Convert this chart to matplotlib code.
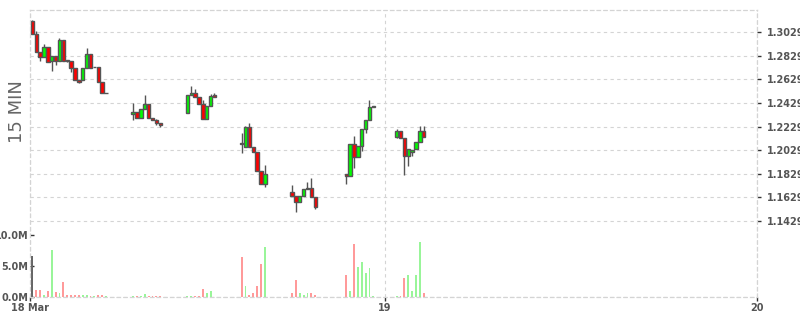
import matplotlib
matplotlib.use("Agg")
import matplotlib.pyplot as plt
import numpy as np

# 15-minute slots counted from 18 Mar 00:00 (96 slots per day)
slots = (list(range(5, 25)) + list(range(31, 39)) + list(range(45, 53)) +
         list(range(59, 66)) + list(range(72, 79)) + list(range(86, 94)) +
         list(range(99, 107)))

opens = [1.3125, 1.3012, 1.2859, 1.2822, 1.2907, 1.2786, 1.2831, 1.2786, 1.2964, 1.2794,
         1.2786, 1.2724, 1.2624, 1.2624, 1.2724, 1.2842, 1.2736, 1.2737, 1.2610, 1.2512,
         1.2336, 1.2356, 1.2300, 1.2376, 1.2418, 1.2302, 1.2285, 1.2262,
         1.2347, 1.2497, 1.2512, 1.2478, 1.2421, 1.2291, 1.2404, 1.2497,
         1.2090, 1.2059, 1.2229, 1.2059, 1.2017, 1.1855, 1.1743,
         1.1672, 1.1641, 1.1587, 1.1641, 1.1700, 1.1711, 1.1630,
         1.1825, 1.1810, 1.2079, 1.1969, 1.2065, 1.2209, 1.2285, 1.2393,
         1.2144, 1.2192, 1.2130, 1.1983, 1.2010, 1.2037, 1.2096, 1.2192]
highs = [1.3136, 1.3040, 1.2859, 1.2927, 1.2907, 1.2831, 1.2831, 1.2978, 1.2964, 1.2794,
         1.2786, 1.2724, 1.2624, 1.2724, 1.2893, 1.2842, 1.2737, 1.2737, 1.2610, 1.2512,
         1.2432, 1.2356, 1.2376, 1.2497, 1.2418, 1.2302, 1.2294, 1.2262,
         1.2497, 1.2574, 1.2548, 1.2478, 1.2455, 1.2404, 1.2506, 1.2512,
         1.2175, 1.2234, 1.2257, 1.2059, 1.2017, 1.1855, 1.1904,
         1.1734, 1.1641, 1.1641, 1.1700, 1.1762, 1.1791, 1.1630,
         1.1825, 1.2079, 1.2150, 1.2065, 1.2209, 1.2285, 1.2455, 1.2407,
         1.2209, 1.2192, 1.2130, 1.2037, 1.2035, 1.2096, 1.2237, 1.2237]
lows = [1.3012, 1.2859, 1.2786, 1.2822, 1.2780, 1.2701, 1.2752, 1.2786, 1.2786, 1.2781,
        1.2695, 1.2624, 1.2603, 1.2624, 1.2724, 1.2724, 1.2736, 1.2610, 1.2512, 1.2512,
        1.2285, 1.2300, 1.2300, 1.2376, 1.2300, 1.2285, 1.2243, 1.2229,
        1.2342, 1.2497, 1.2478, 1.2421, 1.2291, 1.2291, 1.2404, 1.2478,
        1.2005, 1.2059, 1.2059, 1.2017, 1.1855, 1.1743, 1.1720,
        1.1641, 1.1508, 1.1587, 1.1641, 1.1700, 1.1630, 1.1528,
        1.1740, 1.1810, 1.1876, 1.1969, 1.2022, 1.2175, 1.2285, 1.2393,
        1.2133, 1.2130, 1.1819, 1.1898, 1.1983, 1.2037, 1.2096, 1.2144]
closes = [1.3012, 1.2859, 1.2822, 1.2907, 1.2780, 1.2831, 1.2786, 1.2964, 1.2786, 1.2786,
          1.2724, 1.2624, 1.2610, 1.2724, 1.2842, 1.2724, 1.2737, 1.2610, 1.2512, 1.2512,
          1.2356, 1.2300, 1.2376, 1.2418, 1.2300, 1.2285, 1.2262, 1.2240,
          1.2497, 1.2512, 1.2478, 1.2421, 1.2291, 1.2404, 1.2489, 1.2478,
          1.2086, 1.2229, 1.2059, 1.2017, 1.1855, 1.1743, 1.1825,
          1.1641, 1.1587, 1.1641, 1.1700, 1.1711, 1.1630, 1.1545,
          1.1810, 1.2079, 1.1969, 1.2065, 1.2209, 1.2285, 1.2393, 1.2407,
          1.2192, 1.2130, 1.1983, 1.2037, 1.2035, 1.2096, 1.2192, 1.2144]
# volume in millions
volumes = [6.6, 1.1, 1.1, 0.4, 0.9, 7.6, 0.75, 0.6, 2.4, 0.3,
           0.4, 0.3, 0.4, 0.4, 0.4, 0.1, 0.2, 0.4, 0.4, 0.1,
           0.2, 0.2, 0.2, 0.5, 0.1, 0.2, 0.2, 0.2,
           0.2, 0.1, 0.2, 0.2, 1.3, 0.6, 1.0, 0.05,
           6.4, 1.8, 0.3, 0.7, 1.8, 5.3, 8.0,
           0.7, 2.7, 0.6, 0.3, 0.7, 0.7, 0.3,
           3.6, 1.0, 8.5, 4.9, 5.7, 3.9, 4.7, 0.1,
           0.2, 0.1, 3.1, 3.6, 0.9, 3.6, 8.8, 0.6]

price_ticks = [1.1429, 1.1629, 1.1829, 1.2029, 1.2229, 1.2429, 1.2629, 1.2829, 1.3029]
day_ticks = [4.39, 96, 192]
day_labels = ['18 Mar', '19', '20']

txt = '#555555'
grid_c = '#d4d4d4'

fig = plt.figure(figsize=(8, 3.15), dpi=100)
ax = fig.add_axes([30 / 800, 18 / 315, 727 / 800, 287 / 315])
axv = ax.twinx()

x = np.array(slots, dtype=float)
o = np.array(opens)
c = np.array(closes)
up = c >= o

# volume bars
vcol = np.where(up, '#99f599', '#ff9a9a')
vcol[0] = '#666666'
axv.bar(x, np.array(volumes) * 1e6, width=0.5, color=vcol, linewidth=0, zorder=2)

# candles
ax.vlines(x, lows, highs, color='#555555', linewidth=1, zorder=3)
body_lo = np.minimum(o, c)
body_h = np.maximum(np.abs(c - o), 0.00005)
ax.bar(x, body_h, bottom=body_lo, width=0.85,
       color=np.where(up, '#00ff00', '#ff0000'), edgecolor='#555555',
       linewidth=1, zorder=4)

ax.set_xlim(4.39, 192)
ax.set_ylim(1.07844, 1.32181)
axv.set_ylim(0, 46.3e6)

ax.yaxis.tick_right()
ax.set_yticks(price_ticks)
ax.set_yticklabels([f'{p:.4f}' for p in price_ticks])
ax.set_xticks(day_ticks)
ax.set_xticklabels(day_labels)
ax.tick_params(axis='y', direction='out', length=3, width=1, color='#333333',
               labelsize=7, labelcolor=txt, pad=4)
ax.tick_params(axis='x', direction='out', length=3, width=1, color='#333333',
               labelsize=7, labelcolor=txt, pad=1)
for lab in ax.get_xticklabels() + ax.get_yticklabels():
    lab.set_fontweight('bold')

axv.yaxis.tick_left()
axv.set_yticks([0, 5e6, 10e6])
axv.set_yticklabels(['0.0M', '5.0M', '10.0M'])
axv.tick_params(axis='y', direction='in', length=3, width=1, color='#333333',
                labelsize=7, labelcolor=txt, pad=1)
for lab in axv.get_yticklabels():
    lab.set_fontweight('bold')

ax.grid(True, color=grid_c, linestyle=(0, (3, 3)), linewidth=0.8)
ax.set_axisbelow(True)
for a in (ax, axv):
    for s in a.spines.values():
        s.set_color(grid_c)
        s.set_linestyle((0, (3, 3)))
        s.set_linewidth(0.8)
ax.axhline(1.07844, color=grid_c, linestyle=(0, (3, 3)), linewidth=0.8)

fig.text(17 / 800, 1 - 112 / 315, '15 MIN', rotation=90, ha='center', va='center',
         fontsize=13, color='#666666')

fig.savefig('out.png', dpi=100)
